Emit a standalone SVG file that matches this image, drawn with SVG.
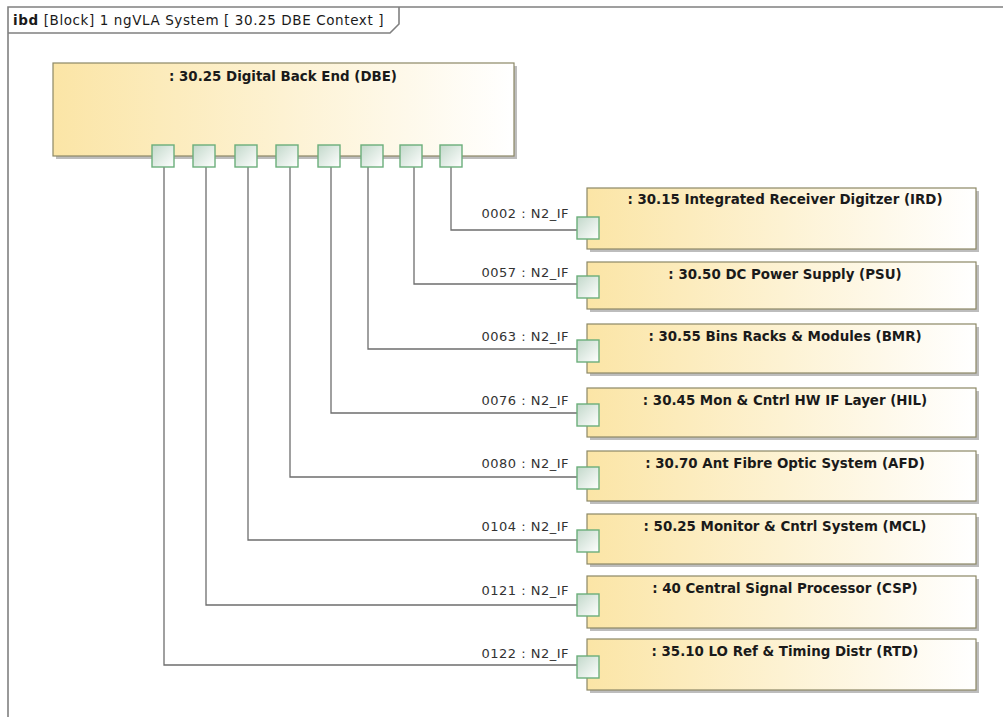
<svg xmlns="http://www.w3.org/2000/svg" width="1003" height="717" viewBox="0 0 1003 717">
<defs>
<linearGradient id="blk" x1="0" y1="0" x2="1" y2="0">
<stop offset="0" stop-color="#FBE5A6"/>
<stop offset="1" stop-color="#FFFFFF"/>
</linearGradient>
<linearGradient id="prt" x1="0" y1="0" x2="1" y2="1">
<stop offset="0" stop-color="#C2D8CA"/>
<stop offset="1" stop-color="#FFFFFF"/>
</linearGradient>
</defs>
<style>
.frame{fill:none;stroke:#808080;stroke-width:1.6}
.shadow{fill:#BDBDBD}
.block{fill:url(#blk);stroke:#8C8866;stroke-width:1.2}
.port{fill:url(#prt);stroke:#6BAE7B;stroke-width:1.4}
.conn{fill:none;stroke:#6E6E6E;stroke-width:1.3}
.title{font-family:"DejaVu Sans",Verdana,sans-serif;font-weight:bold;font-size:13.4px;fill:#1A1A1A;text-anchor:middle}
.lbl{font-family:"DejaVu Sans",Verdana,sans-serif;font-size:13px;letter-spacing:0.5px;fill:#333;text-anchor:end}
.hdr{font-family:"DejaVu Sans",Verdana,sans-serif;font-size:13.5px;letter-spacing:0.6px;fill:#1A1A1A}
</style>
<rect x="0" y="0" width="1003" height="717" fill="#FFFFFF"/>
<g id="frame">
<path class="frame" d="M8,717 V7 H1003"/>
<path class="frame" d="M8,33 H390 L399,24 V7"/>
<text class="hdr" x="13" y="25"><tspan font-weight="bold">ibd</tspan> [Block] 1 ngVLA System [ 30.25 DBE Context ]</text>
</g>
<g id="connectors">
<path class="conn" d="M451,167 V230 H577"/>
<path class="conn" d="M414,167 V284 H577"/>
<path class="conn" d="M368,167 V349 H577"/>
<path class="conn" d="M331,167 V413 H577"/>
<path class="conn" d="M290,167 V477 H577"/>
<path class="conn" d="M248,167 V540 H577"/>
<path class="conn" d="M206,167 V605 H577"/>
<path class="conn" d="M164,167 V665 H577"/>
</g>
<g id="dbe">
<rect class="shadow" x="56" y="66" width="461" height="93"/>
<rect class="block" x="53" y="63" width="461" height="93"/>
<text class="title" x="283" y="81">: 30.25 Digital Back End (DBE)</text>
<rect class="port" x="152" y="145" width="22" height="22"/>
<rect class="port" x="193" y="145" width="22" height="22"/>
<rect class="port" x="235" y="145" width="22" height="22"/>
<rect class="port" x="276" y="145" width="22" height="22"/>
<rect class="port" x="318" y="145" width="22" height="22"/>
<rect class="port" x="361" y="145" width="22" height="22"/>
<rect class="port" x="400" y="145" width="22" height="22"/>
<rect class="port" x="440" y="145" width="22" height="22"/>
</g>
<g id="ird">
<rect class="shadow" x="590" y="191" width="389" height="61"/>
<rect class="block" x="587" y="188" width="389" height="61"/>
<text class="title" x="785" y="204">: 30.15 Integrated Receiver Digitzer (IRD)</text>
<rect class="port" x="577" y="217" width="22" height="22"/>
<text class="lbl" x="569" y="218">0002 : N2_IF</text>
</g>
<g id="psu">
<rect class="shadow" x="590" y="265" width="389" height="47"/>
<rect class="block" x="587" y="262" width="389" height="47"/>
<text class="title" x="785" y="279">: 30.50 DC Power Supply (PSU)</text>
<rect class="port" x="577" y="276" width="22" height="22"/>
<text class="lbl" x="569" y="277">0057 : N2_IF</text>
</g>
<g id="bmr">
<rect class="shadow" x="590" y="327" width="389" height="49"/>
<rect class="block" x="587" y="324" width="389" height="49"/>
<text class="title" x="785" y="341">: 30.55 Bins Racks &amp; Modules (BMR)</text>
<rect class="port" x="577" y="340" width="22" height="22"/>
<text class="lbl" x="569" y="341">0063 : N2_IF</text>
</g>
<g id="hil">
<rect class="shadow" x="590" y="391" width="389" height="49"/>
<rect class="block" x="587" y="388" width="389" height="49"/>
<text class="title" x="785" y="405">: 30.45 Mon &amp; Cntrl HW IF Layer (HIL)</text>
<rect class="port" x="577" y="404" width="22" height="22"/>
<text class="lbl" x="569" y="405">0076 : N2_IF</text>
</g>
<g id="afd">
<rect class="shadow" x="590" y="454" width="389" height="50"/>
<rect class="block" x="587" y="451" width="389" height="50"/>
<text class="title" x="785" y="468">: 30.70 Ant Fibre Optic System (AFD)</text>
<rect class="port" x="577" y="467" width="22" height="22"/>
<text class="lbl" x="569" y="468">0080 : N2_IF</text>
</g>
<g id="mcl">
<rect class="shadow" x="590" y="517" width="389" height="50"/>
<rect class="block" x="587" y="514" width="389" height="50"/>
<text class="title" x="785" y="531">: 50.25 Monitor &amp; Cntrl System (MCL)</text>
<rect class="port" x="577" y="530" width="22" height="22"/>
<text class="lbl" x="569" y="531">0104 : N2_IF</text>
</g>
<g id="csp">
<rect class="shadow" x="590" y="579" width="389" height="52"/>
<rect class="block" x="587" y="576" width="389" height="52"/>
<text class="title" x="785" y="593">: 40 Central Signal Processor (CSP)</text>
<rect class="port" x="577" y="594" width="22" height="22"/>
<text class="lbl" x="569" y="595">0121 : N2_IF</text>
</g>
<g id="rtd">
<rect class="shadow" x="590" y="642" width="389" height="51"/>
<rect class="block" x="587" y="639" width="389" height="51"/>
<text class="title" x="785" y="656">: 35.10 LO Ref &amp; Timing Distr (RTD)</text>
<rect class="port" x="577" y="656" width="22" height="22"/>
<text class="lbl" x="569" y="658">0122 : N2_IF</text>
</g>
</svg>
